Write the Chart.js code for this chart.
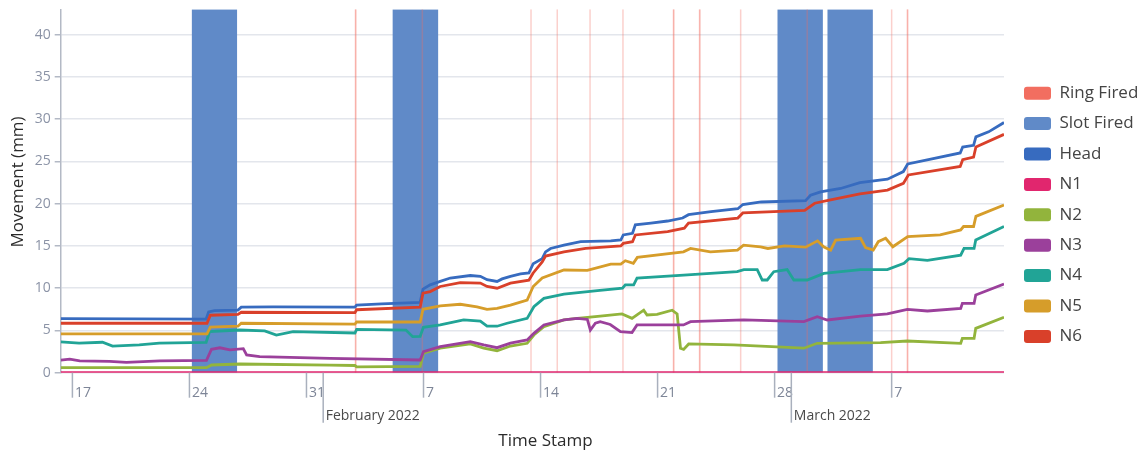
<!DOCTYPE html>
<html><head><meta charset="utf-8">
<script src="https://cdn.jsdelivr.net/npm/chart.js@4.4.1/dist/chart.umd.min.js"></script>
<style>html,body{margin:0;padding:0;background:#fff}#wrap{width:1147px;height:454px;position:relative}</style>
</head><body><div id="wrap"><canvas id="c"></canvas></div>
<script>
// ---- data (x in days since 17 Jan 2022 00:00) ----
const dayTicks = [0, 7, 14, 21, 28, 35, 42, 49];
const dayTickLabels = ['17', '24', '31', '7', '14', '21', '28', '7'];
const monthTicks = [15, 43];
const monthTickLabels = ['February 2022', 'March 2022'];
const yTickValues = [0, 5, 10, 15, 20, 25, 30, 35, 40];
const xMin = -0.7, xMax = 55.72, yMax = 43;

const ringFiredTimes = [16.93, 16.95, 20.93, 27.43, 29.0, 30.96, 32.93, 35.95, 35.97, 37.51, 37.53, 39.97, 43.95, 49.0, 49.94, 49.96];
const slotStart = [7.13, 19.14, 42.16, 45.15];
const slotEnd = [9.86, 21.89, 44.89, 47.88];

const head = [[-0.7,6.4],[8.0,6.35],[8.15,7.2],[8.5,7.35],[9.9,7.4],[10.1,7.75],[12.0,7.8],[16.9,7.75],[17.0,8.0],[18.5,8.15],[20.8,8.33],[20.97,9.9],[21.4,10.4],[22.0,10.8],[22.6,11.2],[23.8,11.5],[24.4,11.4],[24.8,11.0],[25.4,10.8],[25.7,11.1],[26.2,11.4],[26.8,11.7],[27.3,11.8],[27.56,12.9],[28.1,13.5],[28.3,14.3],[28.6,14.7],[29.4,15.1],[30.4,15.5],[32.2,15.6],[32.8,15.7],[32.95,16.3],[33.5,16.5],[33.67,17.5],[34.6,17.7],[35.6,17.95],[36.5,18.3],[36.85,18.7],[38.2,19.05],[39.8,19.4],[40.1,19.9],[41.2,20.2],[43.85,20.35],[44.15,21.0],[44.75,21.4],[45.95,21.8],[47.1,22.5],[48.75,22.9],[49.7,23.8],[49.96,24.7],[51.2,25.2],[53.1,26.0],[53.25,26.7],[53.9,26.9],[54.04,27.9],[54.8,28.5],[55.72,29.6]];
const n1 = [[-0.7,0],[55.72,0]];
const n2 = [[-0.7,0.6],[8.02,0.6],[8.32,0.91],[10.02,1.03],[15.4,0.9],[16.9,0.85],[17.0,0.7],[20.8,0.75],[21.0,2.3],[22.0,2.9],[23.8,3.4],[24.6,2.9],[25.4,2.6],[26.2,3.16],[27.2,3.48],[27.6,4.46],[28.2,5.45],[29.4,6.24],[30.2,6.43],[31.57,6.7],[32.87,6.95],[33.47,6.43],[34.17,7.4],[34.37,6.83],[34.97,6.9],[35.87,7.4],[36.17,6.95],[36.37,2.9],[36.56,2.75],[36.86,3.4],[39.56,3.3],[43.75,2.9],[44.55,3.48],[48.34,3.55],[49.94,3.75],[53.13,3.48],[53.23,4.07],[53.93,4.07],[54.03,5.25],[55.72,6.55]];
const n3 = [[-0.7,1.5],[-0.16,1.6],[0.44,1.4],[2.23,1.35],[3.23,1.23],[5.23,1.4],[8.02,1.45],[8.32,2.77],[8.82,2.95],[9.42,2.7],[10.22,2.85],[10.42,2.1],[11.2,1.9],[15.4,1.7],[20.8,1.5],[21.0,2.5],[22.0,3.08],[23.8,3.67],[24.6,3.28],[25.4,2.96],[26.2,3.5],[27.2,3.87],[27.6,4.66],[28.2,5.65],[29.4,6.24],[30.2,6.43],[30.8,6.3],[30.98,5.05],[31.28,5.85],[31.57,6.04],[32.17,5.7],[32.78,4.85],[33.47,4.75],[33.77,5.65],[36.55,5.65],[36.97,6.04],[40.16,6.24],[43.75,6.04],[44.55,6.63],[45.15,6.24],[47.14,6.7],[48.74,6.95],[49.94,7.5],[51.14,7.3],[53.13,7.6],[53.23,8.2],[53.93,8.2],[54.03,9.2],[55.72,10.5]];
const n4 = [[-0.7,3.65],[0.4,3.5],[1.8,3.6],[2.4,3.15],[4.0,3.3],[5.2,3.5],[8.0,3.6],[8.2,4.85],[10.0,5.05],[11.5,4.95],[12.2,4.45],[13.2,4.85],[16.9,4.7],[17.0,5.13],[19.95,5.05],[20.35,4.26],[20.8,4.3],[20.99,5.37],[22.0,5.65],[23.4,6.24],[24.4,6.1],[24.8,5.5],[25.4,5.5],[26.0,5.85],[27.2,6.43],[27.6,7.8],[28.2,8.8],[29.4,9.3],[31.4,9.7],[32.9,10.0],[33.07,10.4],[33.57,10.4],[33.77,11.2],[36.56,11.55],[39.76,11.95],[40.16,12.2],[40.96,12.2],[41.26,10.97],[41.56,10.97],[41.95,11.95],[42.75,12.2],[43.15,10.97],[43.95,10.97],[44.95,11.75],[47.14,12.2],[48.74,12.2],[49.74,12.95],[50.04,13.5],[51.14,13.3],[53.13,13.9],[53.33,14.7],[53.93,14.7],[54.03,15.7],[55.72,17.3]];
const n5 = [[-0.7,4.6],[8.05,4.6],[8.25,5.4],[9.9,5.5],[10.1,5.85],[16.9,5.75],[17.0,6.0],[20.8,6.0],[20.97,7.5],[22.0,7.9],[23.2,8.1],[24.2,7.8],[24.8,7.5],[25.4,7.6],[26.2,8.0],[27.2,8.6],[27.56,10.2],[28.1,11.2],[29.4,12.15],[30.8,12.1],[32.2,12.85],[32.8,12.85],[33.07,13.25],[33.55,12.95],[33.79,13.65],[36.55,14.3],[36.97,14.7],[38.16,14.3],[39.78,14.5],[40.14,15.1],[41.16,14.9],[41.6,14.7],[42.6,15.0],[43.85,14.85],[44.57,15.6],[44.93,14.9],[45.35,14.5],[45.65,15.7],[47.14,15.9],[47.44,14.8],[47.9,14.5],[48.2,15.5],[48.64,15.9],[49.07,14.9],[49.96,16.1],[51.9,16.3],[53.13,16.9],[53.3,17.3],[53.9,17.3],[54.04,18.5],[55.72,19.85]];
const n6 = [[-0.7,5.85],[8.05,5.85],[8.25,6.8],[9.9,6.9],[10.1,7.15],[16.9,7.1],[17.0,7.45],[20.8,7.75],[20.97,9.4],[21.4,9.6],[22.0,10.2],[23.2,10.65],[24.4,10.6],[24.8,10.2],[25.4,10.0],[26.2,10.6],[27.3,10.95],[27.56,11.8],[28.1,13.1],[28.3,13.8],[29.4,14.3],[30.7,14.7],[32.8,15.0],[32.95,15.3],[33.5,15.5],[33.67,16.3],[35.6,16.7],[36.6,17.1],[36.85,17.7],[39.8,18.3],[40.1,18.9],[43.8,19.2],[44.4,20.05],[45.2,20.4],[47.1,21.15],[48.75,21.6],[49.7,22.4],[50.0,23.4],[53.1,24.4],[53.25,25.2],[53.9,25.5],[54.04,26.7],[55.72,28.2]];

const seriesNames = ['Head', 'N1', 'N2', 'N3', 'N4', 'N5', 'N6'];
const seriesData = [head, n1, n2, n3, n4, n5, n6];
const seriesColors = ['#376bbf', '#e1266e', '#92b43c', '#9b409b', '#21a496', '#d69d2a', '#d9402a'];

// ---- chart ----
const FONT = '"Open Sans", sans-serif';
Chart.defaults.font.family = FONT;

const ringData = ringFiredTimes.flatMap(t => [{x: t, y: 0}, {x: t, y: yMax}, {x: t, y: null}]);
const slotData = slotStart.flatMap((s, i) => [{x: s, y: yMax}, {x: slotEnd[i], y: yMax}, {x: slotEnd[i], y: null}]);

const datasets = [
  {label: 'Ring Fired', data: ringData, legendColor: '#f26e60', borderColor: 'rgba(242,110,96,0.32)', borderWidth: 1.5,
   pointRadius: 0, spanGaps: false, order: 1, segment: {borderWidth: () => 1.5}},
  {label: 'Slot Fired', data: slotData, legendColor: '#608ac8', backgroundColor: '#608ac8', borderColor: 'rgba(0,0,0,0)',
   borderWidth: 0, pointRadius: 0, fill: 'origin', spanGaps: false, order: 2}
];
seriesNames.forEach((name, i) => {
  datasets.push({label: name, data: seriesData[i].map(p => ({x: p[0], y: p[1]})), legendColor: seriesColors[i],
    borderColor: seriesColors[i], borderWidth: 2.8, pointRadius: 0, tension: 0, fill: false, order: -(i + 2)});
});

const LEGEND_LEFT = 1010.6, LEGEND_TOP = 71.3, AREA_RIGHT = 1004;

const custom = {
  id: 'custom',
  afterUpdate(chart) {
    const lg = chart.legend;
    if (lg) {
      const w = lg.width, h = lg.height;
      lg.left = LEGEND_LEFT; lg.right = LEGEND_LEFT + w;
      lg.top = LEGEND_TOP; lg.bottom = LEGEND_TOP + h;
      if (lg.adjustHitBoxes) lg.adjustHitBoxes();
    }
  },
  afterDraw(chart) {
    const ctx = chart.ctx, xs = chart.scales.x, area = chart.chartArea;
    ctx.save();
    ctx.strokeStyle = '#a9b0bd';
    ctx.lineWidth = 1.5;
    ctx.textAlign = 'left';
    ctx.textBaseline = 'alphabetic';
    ctx.font = '14px ' + FONT;
    ctx.fillStyle = '#7d8597';
    dayTicks.forEach((v, i) => {
      const px = xs.getPixelForValue(v);
      ctx.beginPath(); ctx.moveTo(px, area.bottom); ctx.lineTo(px, area.bottom + 25); ctx.stroke();
      ctx.fillText(dayTickLabels[i], px + 2.5, area.bottom + 23.8);
    });
    ctx.fillStyle = '#4a4a4a';
    monthTicks.forEach((v, i) => {
      const px = xs.getPixelForValue(v);
      ctx.beginPath(); ctx.moveTo(px, area.bottom); ctx.lineTo(px, area.bottom + 50); ctx.stroke();
      ctx.fillText(monthTickLabels[i], px + 2.5, area.bottom + 46.8);
    });
    ctx.fillStyle = '#2b2b2b';
    ctx.font = '17px ' + FONT;
    ctx.textAlign = 'center';
    ctx.fillText('Time Stamp', 545.5, 446);
    ctx.translate(18.5, 182);
    ctx.rotate(-Math.PI / 2);
    ctx.textBaseline = 'middle';
    ctx.fillText('Movement (mm)', 0, 0);
    ctx.restore();
  }
};

const chart = new Chart(document.getElementById('c'), {
  type: 'line',
  data: {datasets},
  options: {
    responsive: true,
    maintainAspectRatio: false,
    animation: false,
    events: [],
    layout: {padding: {top: 9.3, right: 10, bottom: 0, left: 0}},
    scales: {
      x: {type: 'linear', min: xMin, max: xMax,
          ticks: {display: false}, grid: {display: false}, border: {display: false},
          afterFit(s) { s.height = 454 - 372.7; s.paddingLeft = 0; s.paddingRight = 0; }},
      y: {type: 'linear', min: 0, max: yMax,
          afterBuildTicks(s) { s.ticks = yTickValues.map(v => ({value: v})); },
          afterFit(s) { s.width = 60.7; s.paddingTop = 0; s.paddingBottom = 0; },
          ticks: {color: '#8b93a6', font: {size: 14}, padding: 4},
          grid: {color: '#e3e6ec', lineWidth: 1.5, tickLength: 6, tickColor: '#b3b9c5', tickWidth: 1.5},
          border: {display: true, color: '#b3b9c5', width: 1.5}}
    },
    plugins: {
      tooltip: {enabled: false},
      legend: {
        position: 'right', align: 'start',
        labels: {
          boxWidth: 27, boxHeight: 13, padding: 13.4, color: '#444', font: {size: 17},
          useBorderRadius: true, borderRadius: 3,
          sort: (a, b) => a.datasetIndex - b.datasetIndex,
          generateLabels(ch) {
            return ch.data.datasets.map((ds, i) => ({
              text: ds.label, fillStyle: ds.legendColor, strokeStyle: ds.legendColor, lineWidth: 0,
              hidden: !ch.isDatasetVisible(i), datasetIndex: i, borderRadius: 3, fontColor: '#444'
            }));
          }
        }
      }
    }
  },
  plugins: [custom]
});
chart.options.layout.padding.right = Math.max(0, 1147 - AREA_RIGHT - chart.legend.width);
chart.update();
</script>
</body></html>
